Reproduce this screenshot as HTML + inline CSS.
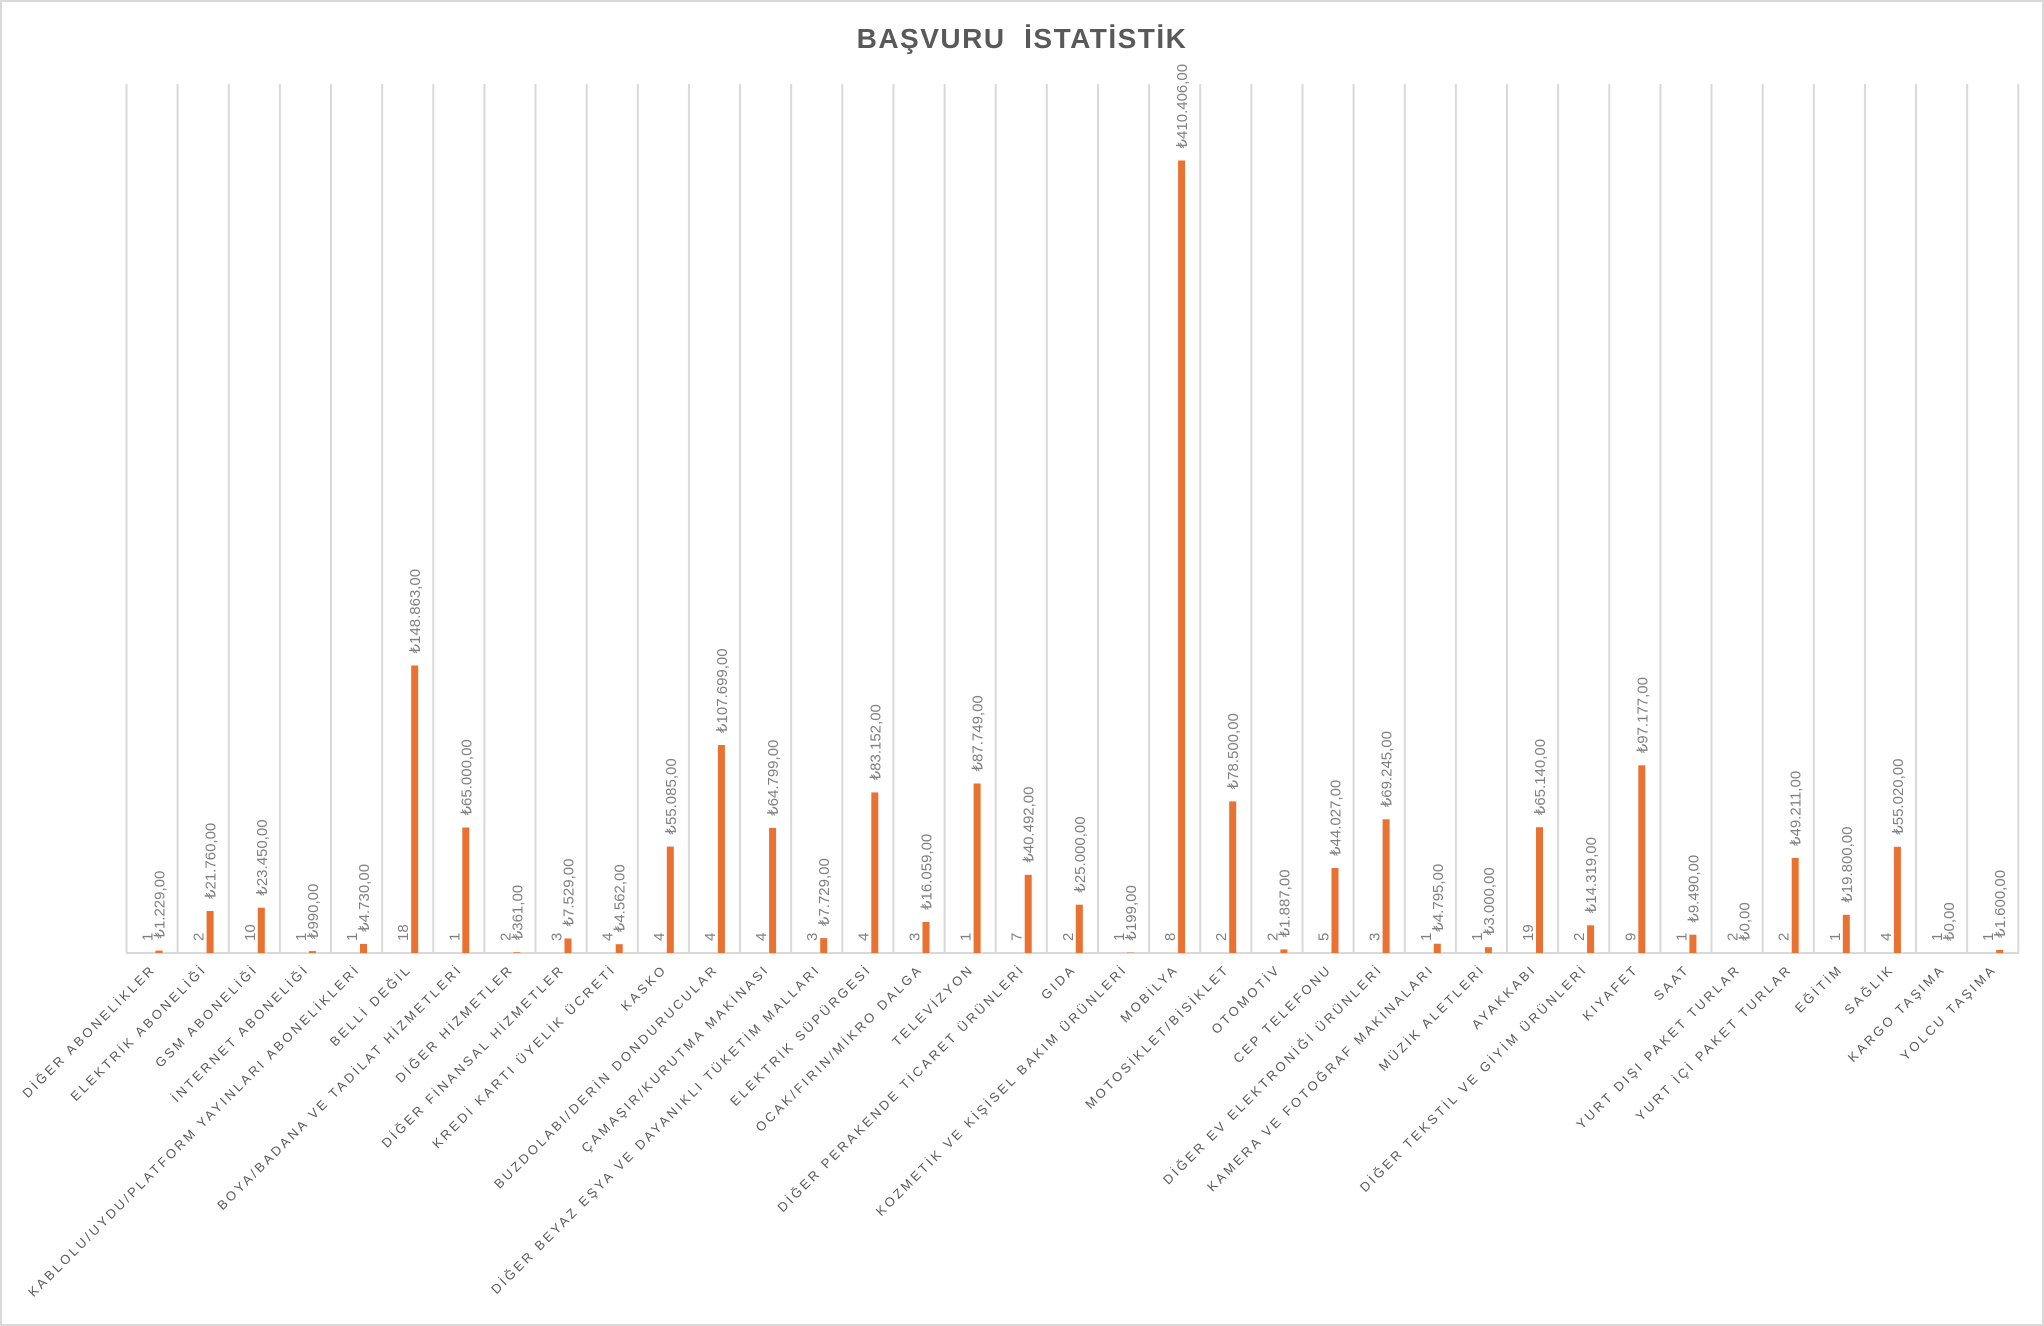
<!DOCTYPE html>
<html><head><meta charset="utf-8"><style>
html,body{margin:0;padding:0;background:#fff;}
svg{display:block;}
.c{font-family:"Liberation Sans",sans-serif;font-size:13px;fill:#595959;letter-spacing:2.8px;}
.v{font-family:"Liberation Sans",sans-serif;font-size:15px;fill:#808080;}
.b{fill:#E97132;}
</style></head><body>
<svg width="2044" height="1326" viewBox="0 0 2044 1326" xmlns="http://www.w3.org/2000/svg">
<rect x="1" y="1" width="2042" height="1324" fill="#fff" stroke="#d9d9d9" stroke-width="2"/>
<text x="1022" y="48" text-anchor="middle" font-family="Liberation Sans, sans-serif" font-weight="bold" font-size="28" fill="#595959" letter-spacing="1.5">BAŞVURU&#160; İSTATİSTİK</text>
<g stroke="#d9d9d9" stroke-width="2">
<line x1="126.5" y1="84" x2="126.5" y2="953"/><line x1="177.6" y1="84" x2="177.6" y2="953"/><line x1="228.8" y1="84" x2="228.8" y2="953"/><line x1="279.9" y1="84" x2="279.9" y2="953"/><line x1="331" y1="84" x2="331" y2="953"/><line x1="382.2" y1="84" x2="382.2" y2="953"/><line x1="433.3" y1="84" x2="433.3" y2="953"/><line x1="484.4" y1="84" x2="484.4" y2="953"/><line x1="535.5" y1="84" x2="535.5" y2="953"/><line x1="586.7" y1="84" x2="586.7" y2="953"/><line x1="637.8" y1="84" x2="637.8" y2="953"/><line x1="688.9" y1="84" x2="688.9" y2="953"/><line x1="740.1" y1="84" x2="740.1" y2="953"/><line x1="791.2" y1="84" x2="791.2" y2="953"/><line x1="842.3" y1="84" x2="842.3" y2="953"/><line x1="893.5" y1="84" x2="893.5" y2="953"/><line x1="944.6" y1="84" x2="944.6" y2="953"/><line x1="995.7" y1="84" x2="995.7" y2="953"/><line x1="1046.8" y1="84" x2="1046.8" y2="953"/><line x1="1098" y1="84" x2="1098" y2="953"/><line x1="1149.1" y1="84" x2="1149.1" y2="953"/><line x1="1200.2" y1="84" x2="1200.2" y2="953"/><line x1="1251.4" y1="84" x2="1251.4" y2="953"/><line x1="1302.5" y1="84" x2="1302.5" y2="953"/><line x1="1353.6" y1="84" x2="1353.6" y2="953"/><line x1="1404.8" y1="84" x2="1404.8" y2="953"/><line x1="1455.9" y1="84" x2="1455.9" y2="953"/><line x1="1507" y1="84" x2="1507" y2="953"/><line x1="1558.1" y1="84" x2="1558.1" y2="953"/><line x1="1609.3" y1="84" x2="1609.3" y2="953"/><line x1="1660.4" y1="84" x2="1660.4" y2="953"/><line x1="1711.5" y1="84" x2="1711.5" y2="953"/><line x1="1762.7" y1="84" x2="1762.7" y2="953"/><line x1="1813.8" y1="84" x2="1813.8" y2="953"/><line x1="1864.9" y1="84" x2="1864.9" y2="953"/><line x1="1916.1" y1="84" x2="1916.1" y2="953"/><line x1="1967.2" y1="84" x2="1967.2" y2="953"/><line x1="2018.3" y1="84" x2="2018.3" y2="953"/>
<line x1="126" y1="953" x2="2019" y2="953"/>
</g>

<g transform="translate(126.5,0)"><rect class="b" x="29" y="950.6" width="7" height="2.4"/><text class="v" transform="translate(26,941) rotate(-90)">1</text><text class="v" transform="translate(38,938.6) rotate(-90)">₺1.229,00</text><text class="c" text-anchor="end" transform="translate(30,970) rotate(-45)">DİĞER ABONELİKLER</text></g>
<g transform="translate(177.6,0)"><rect class="b" x="29" y="911" width="7" height="42"/><text class="v" transform="translate(26,941) rotate(-90)">2</text><text class="v" transform="translate(38,899) rotate(-90)">₺21.760,00</text><text class="c" text-anchor="end" transform="translate(30,970) rotate(-45)">ELEKTRİK ABONELİĞİ</text></g>
<g transform="translate(228.8,0)"><rect class="b" x="29" y="907.7" width="7" height="45.3"/><text class="v" transform="translate(26,941) rotate(-90)">10</text><text class="v" transform="translate(38,895.7) rotate(-90)">₺23.450,00</text><text class="c" text-anchor="end" transform="translate(30,970) rotate(-45)">GSM ABONELİĞİ</text></g>
<g transform="translate(279.9,0)"><rect class="b" x="29" y="951.1" width="7" height="1.9"/><text class="v" transform="translate(26,941) rotate(-90)">1</text><text class="v" transform="translate(38,939.1) rotate(-90)">₺990,00</text><text class="c" text-anchor="end" transform="translate(30,970) rotate(-45)">İNTERNET ABONELİĞİ</text></g>
<g transform="translate(331,0)"><rect class="b" x="29" y="943.9" width="7" height="9.1"/><text class="v" transform="translate(26,941) rotate(-90)">1</text><text class="v" transform="translate(38,931.9) rotate(-90)">₺4.730,00</text><text class="c" text-anchor="end" transform="translate(30,970) rotate(-45)">KABLOLU/UYDU/PLATFORM YAYINLARI ABONELİKLERİ</text></g>
<g transform="translate(382.2,0)"><rect class="b" x="29" y="665.5" width="7" height="287.5"/><text class="v" transform="translate(26,941) rotate(-90)">18</text><text class="v" transform="translate(38,653.5) rotate(-90)">₺148.863,00</text><text class="c" text-anchor="end" transform="translate(30,970) rotate(-45)">BELLİ DEĞİL</text></g>
<g transform="translate(433.3,0)"><rect class="b" x="29" y="827.5" width="7" height="125.5"/><text class="v" transform="translate(26,941) rotate(-90)">1</text><text class="v" transform="translate(38,815.5) rotate(-90)">₺65.000,00</text><text class="c" text-anchor="end" transform="translate(30,970) rotate(-45)">BOYA/BADANA VE TADİLAT HİZMETLERİ</text></g>
<g transform="translate(484.4,0)"><rect class="b" x="29" y="952.3" width="7" height="0.7"/><text class="v" transform="translate(26,941) rotate(-90)">2</text><text class="v" transform="translate(38,940.3) rotate(-90)">₺361,00</text><text class="c" text-anchor="end" transform="translate(30,970) rotate(-45)">DİĞER HİZMETLER</text></g>
<g transform="translate(535.5,0)"><rect class="b" x="29" y="938.5" width="7" height="14.5"/><text class="v" transform="translate(26,941) rotate(-90)">3</text><text class="v" transform="translate(38,926.5) rotate(-90)">₺7.529,00</text><text class="c" text-anchor="end" transform="translate(30,970) rotate(-45)">DİĞER FİNANSAL HİZMETLER</text></g>
<g transform="translate(586.7,0)"><rect class="b" x="29" y="944.2" width="7" height="8.8"/><text class="v" transform="translate(26,941) rotate(-90)">4</text><text class="v" transform="translate(38,932.2) rotate(-90)">₺4.562,00</text><text class="c" text-anchor="end" transform="translate(30,970) rotate(-45)">KREDİ KARTI ÜYELİK ÜCRETİ</text></g>
<g transform="translate(637.8,0)"><rect class="b" x="29" y="846.6" width="7" height="106.4"/><text class="v" transform="translate(26,941) rotate(-90)">4</text><text class="v" transform="translate(38,834.6) rotate(-90)">₺55.085,00</text><text class="c" text-anchor="end" transform="translate(30,970) rotate(-45)">KASKO</text></g>
<g transform="translate(688.9,0)"><rect class="b" x="29" y="745" width="7" height="208"/><text class="v" transform="translate(26,941) rotate(-90)">4</text><text class="v" transform="translate(38,733) rotate(-90)">₺107.699,00</text><text class="c" text-anchor="end" transform="translate(30,970) rotate(-45)">BUZDOLABI/DERİN DONDURUCULAR</text></g>
<g transform="translate(740.1,0)"><rect class="b" x="29" y="827.9" width="7" height="125.1"/><text class="v" transform="translate(26,941) rotate(-90)">4</text><text class="v" transform="translate(38,815.9) rotate(-90)">₺64.799,00</text><text class="c" text-anchor="end" transform="translate(30,970) rotate(-45)">ÇAMAŞIR/KURUTMA MAKİNASI</text></g>
<g transform="translate(791.2,0)"><rect class="b" x="29" y="938.1" width="7" height="14.9"/><text class="v" transform="translate(26,941) rotate(-90)">3</text><text class="v" transform="translate(38,926.1) rotate(-90)">₺7.729,00</text><text class="c" text-anchor="end" transform="translate(30,970) rotate(-45)">DİĞER BEYAZ EŞYA VE DAYANIKLI TÜKETİM MALLARI</text></g>
<g transform="translate(842.3,0)"><rect class="b" x="29" y="792.4" width="7" height="160.6"/><text class="v" transform="translate(26,941) rotate(-90)">4</text><text class="v" transform="translate(38,780.4) rotate(-90)">₺83.152,00</text><text class="c" text-anchor="end" transform="translate(30,970) rotate(-45)">ELEKTRİK SÜPÜRGESİ</text></g>
<g transform="translate(893.5,0)"><rect class="b" x="29" y="922" width="7" height="31"/><text class="v" transform="translate(26,941) rotate(-90)">3</text><text class="v" transform="translate(38,910) rotate(-90)">₺16.059,00</text><text class="c" text-anchor="end" transform="translate(30,970) rotate(-45)">OCAK/FIRIN/MİKRO DALGA</text></g>
<g transform="translate(944.6,0)"><rect class="b" x="29" y="783.5" width="7" height="169.5"/><text class="v" transform="translate(26,941) rotate(-90)">1</text><text class="v" transform="translate(38,771.5) rotate(-90)">₺87.749,00</text><text class="c" text-anchor="end" transform="translate(30,970) rotate(-45)">TELEVİZYON</text></g>
<g transform="translate(995.7,0)"><rect class="b" x="29" y="874.8" width="7" height="78.2"/><text class="v" transform="translate(26,941) rotate(-90)">7</text><text class="v" transform="translate(38,862.8) rotate(-90)">₺40.492,00</text><text class="c" text-anchor="end" transform="translate(30,970) rotate(-45)">DİĞER PERAKENDE TİCARET ÜRÜNLERİ</text></g>
<g transform="translate(1046.8,0)"><rect class="b" x="29" y="904.7" width="7" height="48.3"/><text class="v" transform="translate(26,941) rotate(-90)">2</text><text class="v" transform="translate(38,892.7) rotate(-90)">₺25.000,00</text><text class="c" text-anchor="end" transform="translate(30,970) rotate(-45)">GIDA</text></g>
<g transform="translate(1098,0)"><rect class="b" x="29" y="952.6" width="7" height="0.4"/><text class="v" transform="translate(26,941) rotate(-90)">1</text><text class="v" transform="translate(38,940.6) rotate(-90)">₺199,00</text><text class="c" text-anchor="end" transform="translate(30,970) rotate(-45)">KOZMETİK VE KİŞİSEL BAKIM ÜRÜNLERİ</text></g>
<g transform="translate(1149.1,0)"><rect class="b" x="29" y="160.5" width="7" height="792.5"/><text class="v" transform="translate(26,941) rotate(-90)">8</text><text class="v" transform="translate(38,148.5) rotate(-90)">₺410.406,00</text><text class="c" text-anchor="end" transform="translate(30,970) rotate(-45)">MOBİLYA</text></g>
<g transform="translate(1200.2,0)"><rect class="b" x="29" y="801.4" width="7" height="151.6"/><text class="v" transform="translate(26,941) rotate(-90)">2</text><text class="v" transform="translate(38,789.4) rotate(-90)">₺78.500,00</text><text class="c" text-anchor="end" transform="translate(30,970) rotate(-45)">MOTOSİKLET/BİSİKLET</text></g>
<g transform="translate(1251.4,0)"><rect class="b" x="29" y="949.4" width="7" height="3.6"/><text class="v" transform="translate(26,941) rotate(-90)">2</text><text class="v" transform="translate(38,937.4) rotate(-90)">₺1.887,00</text><text class="c" text-anchor="end" transform="translate(30,970) rotate(-45)">OTOMOTİV</text></g>
<g transform="translate(1302.5,0)"><rect class="b" x="29" y="868" width="7" height="85"/><text class="v" transform="translate(26,941) rotate(-90)">5</text><text class="v" transform="translate(38,856) rotate(-90)">₺44.027,00</text><text class="c" text-anchor="end" transform="translate(30,970) rotate(-45)">CEP TELEFONU</text></g>
<g transform="translate(1353.6,0)"><rect class="b" x="29" y="819.3" width="7" height="133.7"/><text class="v" transform="translate(26,941) rotate(-90)">3</text><text class="v" transform="translate(38,807.3) rotate(-90)">₺69.245,00</text><text class="c" text-anchor="end" transform="translate(30,970) rotate(-45)">DİĞER EV ELEKTRONİĞİ ÜRÜNLERİ</text></g>
<g transform="translate(1404.8,0)"><rect class="b" x="29" y="943.7" width="7" height="9.3"/><text class="v" transform="translate(26,941) rotate(-90)">1</text><text class="v" transform="translate(38,931.7) rotate(-90)">₺4.795,00</text><text class="c" text-anchor="end" transform="translate(30,970) rotate(-45)">KAMERA VE FOTOĞRAF MAKİNALARI</text></g>
<g transform="translate(1455.9,0)"><rect class="b" x="29" y="947.2" width="7" height="5.8"/><text class="v" transform="translate(26,941) rotate(-90)">1</text><text class="v" transform="translate(38,935.2) rotate(-90)">₺3.000,00</text><text class="c" text-anchor="end" transform="translate(30,970) rotate(-45)">MÜZİK ALETLERİ</text></g>
<g transform="translate(1507,0)"><rect class="b" x="29" y="827.2" width="7" height="125.8"/><text class="v" transform="translate(26,941) rotate(-90)">19</text><text class="v" transform="translate(38,815.2) rotate(-90)">₺65.140,00</text><text class="c" text-anchor="end" transform="translate(30,970) rotate(-45)">AYAKKABI</text></g>
<g transform="translate(1558.1,0)"><rect class="b" x="29" y="925.3" width="7" height="27.7"/><text class="v" transform="translate(26,941) rotate(-90)">2</text><text class="v" transform="translate(38,913.3) rotate(-90)">₺14.319,00</text><text class="c" text-anchor="end" transform="translate(30,970) rotate(-45)">DİĞER TEKSTİL VE GİYİM ÜRÜNLERİ</text></g>
<g transform="translate(1609.3,0)"><rect class="b" x="29" y="765.3" width="7" height="187.7"/><text class="v" transform="translate(26,941) rotate(-90)">9</text><text class="v" transform="translate(38,753.3) rotate(-90)">₺97.177,00</text><text class="c" text-anchor="end" transform="translate(30,970) rotate(-45)">KIYAFET</text></g>
<g transform="translate(1660.4,0)"><rect class="b" x="29" y="934.7" width="7" height="18.3"/><text class="v" transform="translate(26,941) rotate(-90)">1</text><text class="v" transform="translate(38,922.7) rotate(-90)">₺9.490,00</text><text class="c" text-anchor="end" transform="translate(30,970) rotate(-45)">SAAT</text></g>
<g transform="translate(1711.5,0)"><text class="v" transform="translate(26,941) rotate(-90)">2</text><text class="v" transform="translate(38,941) rotate(-90)">₺0,00</text><text class="c" text-anchor="end" transform="translate(30,970) rotate(-45)">YURT DIŞI PAKET TURLAR</text></g>
<g transform="translate(1762.7,0)"><rect class="b" x="29" y="858" width="7" height="95"/><text class="v" transform="translate(26,941) rotate(-90)">2</text><text class="v" transform="translate(38,846) rotate(-90)">₺49.211,00</text><text class="c" text-anchor="end" transform="translate(30,970) rotate(-45)">YURT İÇİ PAKET TURLAR</text></g>
<g transform="translate(1813.8,0)"><rect class="b" x="29" y="914.8" width="7" height="38.2"/><text class="v" transform="translate(26,941) rotate(-90)">1</text><text class="v" transform="translate(38,902.8) rotate(-90)">₺19.800,00</text><text class="c" text-anchor="end" transform="translate(30,970) rotate(-45)">EĞİTİM</text></g>
<g transform="translate(1864.9,0)"><rect class="b" x="29" y="846.8" width="7" height="106.2"/><text class="v" transform="translate(26,941) rotate(-90)">4</text><text class="v" transform="translate(38,834.8) rotate(-90)">₺55.020,00</text><text class="c" text-anchor="end" transform="translate(30,970) rotate(-45)">SAĞLIK</text></g>
<g transform="translate(1916.1,0)"><text class="v" transform="translate(26,941) rotate(-90)">1</text><text class="v" transform="translate(38,941) rotate(-90)">₺0,00</text><text class="c" text-anchor="end" transform="translate(30,970) rotate(-45)">KARGO TAŞIMA</text></g>
<g transform="translate(1967.2,0)"><rect class="b" x="29" y="949.9" width="7" height="3.1"/><text class="v" transform="translate(26,941) rotate(-90)">1</text><text class="v" transform="translate(38,937.9) rotate(-90)">₺1.600,00</text><text class="c" text-anchor="end" transform="translate(30,970) rotate(-45)">YOLCU TAŞIMA</text></g>
</svg>
</body></html>
